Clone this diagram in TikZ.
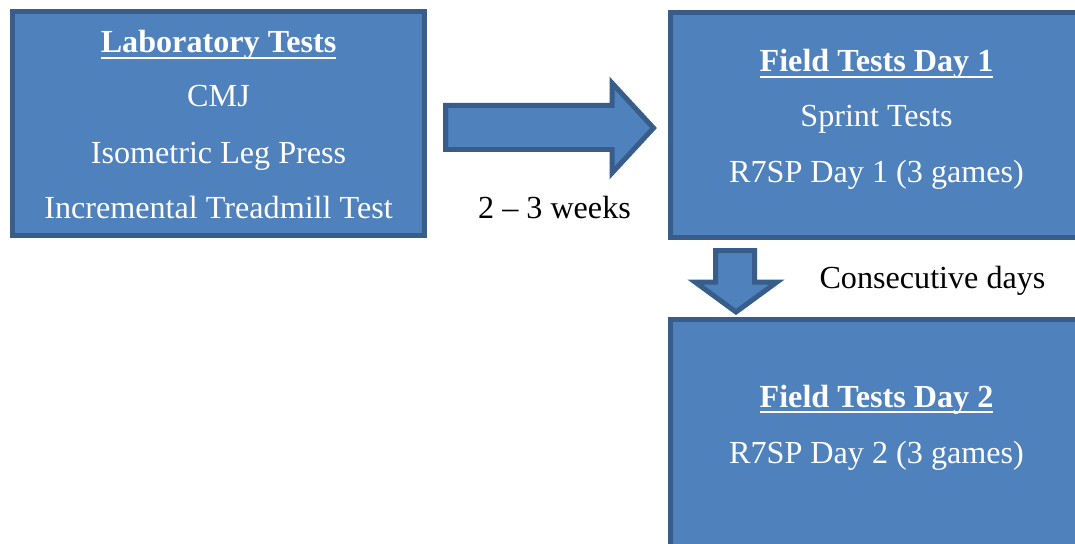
\documentclass[tikz,border=0pt]{standalone}
\usepackage{fontspec}
\setmainfont{Liberation Serif}
\usepackage{xcolor}
\usepackage{tikz}
\definecolor{boxblue}{HTML}{4F81BD}
\definecolor{boxedge}{HTML}{385D8A}
% Word-style underline that runs through the descenders
\newcommand{\wordul}[1]{\setbox0\hbox{#1}\rlap{\rule[-3.4pt]{\wd0}{1.2pt}}\box0}

\begin{document}
\begin{tikzpicture}[x=0.02cm, y=-0.02cm,
  stagebox/.style={draw=boxedge, fill=boxblue, line width=0.1cm, inner sep=0pt},
  boxtext/.style={anchor=base, text=white, inner sep=0pt, font=\fontsize{18.3}{22}\selectfont},
  plaintext/.style={anchor=base, text=black, inner sep=0pt, font=\fontsize{18.3}{22}\selectfont},
  blockarrow/.style={draw=boxedge, fill=boxblue, line width=0.1cm, line join=miter}]

  % page: 1075 x 544 px, 1 px = 0.02cm
  \useasboundingbox (0,0) rectangle (1075,544);
  \clip (0,0) rectangle (1075,544);

  % --- Boxes ---
  \node[stagebox, minimum width=8.24cm, minimum height=4.48cm] (lab) at (218.5,123.5) {};
  \node[stagebox, minimum width=8.24cm, minimum height=4.5cm] (day1) at (876.5,125) {};
  \node[stagebox, minimum width=8.24cm, minimum height=5cm] (day2) at (876.5,444.5) {};

  % --- Laboratory tests ---
  \node[boxtext] (labtitle) at (218.5,53) {\bfseries\wordul{Laboratory Tests}};
  \node[boxtext] (cmj) at (218.5,107) {CMJ};
  \node[boxtext] (ilp) at (218.5,163) {Isometric Leg Press};
  \node[boxtext] (itt) at (218.5,218) {Incremental Treadmill Test};

  % --- Field tests day 1 ---
  \node[boxtext] (day1title) at (876.5,72) {\bfseries\wordul{Field Tests Day 1}};
  \node[boxtext] (sprint) at (876.5,127) {Sprint Tests};
  \node[boxtext] (rsp1) at (876.5,182) {R7SP Day 1 (3 games)};

  % --- Field tests day 2 ---
  \node[boxtext] (day2title) at (876.5,407) {\bfseries\wordul{Field Tests Day 2}};
  \node[boxtext] (rsp2) at (876.5,463) {R7SP Day 2 (3 games)};

  % --- Block arrows ---
  \draw[blockarrow] (445.5,105.5) -- (612,105.5) -- (612,83) -- (653.5,128)
    -- (612,173) -- (612,149.5) -- (445.5,149.5) -- cycle;
  \draw[blockarrow] (715.5,250.5) -- (754.5,250.5) -- (754.5,282) -- (777,282)
    -- (736,312) -- (695,282) -- (715.5,282) -- cycle;

  % --- Gap labels ---
  \node[plaintext] (weeks) at (554.5,218) {2 -- 3 weeks};
  \node[plaintext] (consec) at (932.5,288) {Consecutive days};

\end{tikzpicture}
\end{document}
